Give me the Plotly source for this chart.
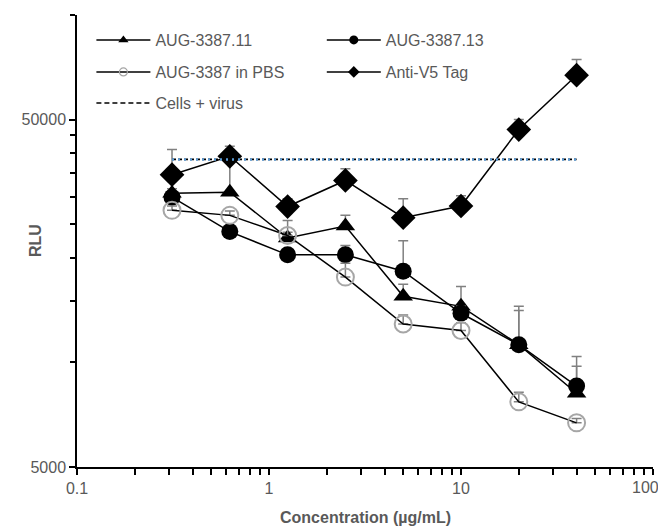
import plotly.graph_objects as go

conc = [0.3125, 0.625, 1.25, 2.5, 5, 10, 20, 40]

aug11 = [30700, 30900, 22800, 24700, 15500, 14500, 11250, 8150]
aug11_err = [900, 8600, 900, 1800, 1300, 2050, 2850, 2250]

aug13 = [29900, 23800, 20400, 20400, 18300, 13850, 11250, 8550]
aug13_err = [800, 600, 600, 1300, 4100, 650, 3250, 1200]

pbs = [27400, 26500, 23200, 17600, 12900, 12350, 7700, 6700]
pbs_err = [800, 800, 2400, 1700, 800, 650, 500, 200]

antiv5 = [34700, 39200, 28100, 33400, 26100, 28200, 46800, 67100]
antiv5_err = [6300, 2700, 1500, 2700, 3500, 2000, 3200, 7400]

cells_virus = [38400] * len(conc)

x_ticks = [0.1, 1, 10, 100]
x_ticklabels = ["0.1", "1", "10", "100"]
y_ticks = [5000, 50000]
y_ticklabels = ["5000", "50000"]

FONT = "Liberation Sans, Arial, sans-serif"
GREY = "#595959"
ERR = "#808080"
OPEN = "#a6a6a6"

# the page body has an 8px margin; figure is shifted accordingly
OFF = 8
W, H = 666 - OFF, 528 - OFF

def err(arr):
    return dict(type="data", array=arr, arrayminus=[0] * len(arr), symmetric=False,
                color=ERR, thickness=1.5, width=5)

series = [
    ("AUG-3387.11", aug11, aug11_err, dict(symbol="triangle-up", size=17, color="black"),
     dict(symbol="triangle-up", size=9, color="black"), "legend"),
    ("AUG-3387.13", aug13, aug13_err, dict(symbol="circle", size=17, color="black"),
     dict(symbol="circle", size=9, color="black"), "legend2"),
    ("AUG-3387 in PBS", pbs, pbs_err,
     dict(symbol="circle-open", size=17, color=OPEN, line=dict(width=2, color=OPEN)),
     dict(symbol="circle-open", size=8, color=OPEN, line=dict(width=1.2, color=OPEN)), "legend3"),
    ("Anti-V5 Tag", antiv5, antiv5_err, dict(symbol="diamond", size=19, color="black"),
     dict(symbol="diamond", size=9, color="black"), "legend4"),
]

fig = go.Figure()
for name, vals, errs, mk, lmk, lg in series:
    fig.add_trace(go.Scatter(x=conc, y=vals, name=name, mode="lines+markers",
                             line=dict(color="black", width=1.5), marker=mk,
                             error_y=err(errs), showlegend=False))

fig.add_trace(go.Scatter(x=conc, y=cells_virus, name="Cells + virus", mode="lines",
                         line=dict(color="black", width=1.8, dash="4px,2px"),
                         showlegend=False))
fig.add_trace(go.Scatter(x=conc, y=cells_virus, name="Cells + virus", mode="lines",
                         line=dict(color="#5b9bd5", width=2.5, dash="2px,4px"),
                         showlegend=False))

for name, vals, errs, mk, lmk, lg in series:
    fig.add_trace(go.Scatter(x=[None], y=[None], name=name, mode="lines+markers",
                             line=dict(color="black", width=1.5), marker=lmk,
                             legend=lg, showlegend=True))
fig.add_trace(go.Scatter(x=[None], y=[None], name="Cells + virus", mode="lines",
                         line=dict(color="black", width=1.5, dash="5px,3px"),
                         legend="legend5", showlegend=True))

leg = dict(font=dict(family=FONT, size=16, color=GREY), bgcolor="rgba(0,0,0,0)",
           xanchor="left", yanchor="middle", itemwidth=54, orientation="h")
c1, c2 = 0.025, 0.425
L = lambda yp: (467 - yp) / 452
r1, r2, r3 = L(40), L(72), L(103)

fig.update_layout(
    width=W, height=H,
    margin=dict(l=77 - OFF, r=W - (653 - OFF), t=15 - OFF, b=H - (467 - OFF)),
    plot_bgcolor="white", paper_bgcolor="white",
    font=dict(family=FONT, size=16, color=GREY),
    showlegend=True,
    legend=dict(leg, x=c1, y=r1),
    legend2=dict(leg, x=c2, y=r1),
    legend3=dict(leg, x=c1, y=r2),
    legend4=dict(leg, x=c2, y=r2),
    legend5=dict(leg, x=c1, y=r3),
    xaxis=dict(type="log", range=[-1, 2], tickmode="array", tickvals=x_ticks[:-1],
               ticktext=x_ticklabels[:-1], ticks="outside", ticklen=6, tickwidth=1.5,
               tickcolor="black", showline=True, linecolor="black", linewidth=1.5,
               showgrid=False, zeroline=False, automargin=False,
               tickfont=dict(family=FONT, size=16, color=GREY),
               minor=dict(tickmode="array",
                          tickvals=[m * d for d in [0.1, 1, 10] for m in range(2, 10)] + [100],
                          ticks="outside", ticklen=6, tickwidth=1.5, tickcolor="black")),
    yaxis=dict(type="log", range=[3.69897, 5], tickmode="array", tickvals=y_ticks,
               ticktext=y_ticklabels, ticks="outside", ticklen=6, tickwidth=1.5,
               tickcolor="black", showline=True, linecolor="black", linewidth=1.5,
               showgrid=False, zeroline=False, automargin=False,
               tickfont=dict(family=FONT, size=16, color=GREY),
               minor=dict(tickmode="array",
                          tickvals=[m * 5000 for m in range(2, 10)] + [100000],
                          ticks="outside", ticklen=5, tickwidth=1.5, tickcolor="black")),
    annotations=[
        dict(text=x_ticklabels[-1], xref="x", yref="paper", x=2, y=L(488),
             xanchor="right", yanchor="middle", xshift=8, showarrow=False,
             font=dict(family=FONT, size=16, color=GREY)),
        dict(text="<b>Concentration (µg/mL)</b>", xref="paper", yref="paper",
             x=0.5, y=L(518), xanchor="center", yanchor="middle", showarrow=False,
             font=dict(family=FONT, size=16, color=GREY)),
        dict(text="<b>RLU</b>", xref="paper", yref="paper", textangle=-90,
             x=(35 - 77) / 576, y=0.5, xanchor="center", yanchor="middle", showarrow=False,
             font=dict(family=FONT, size=16, color=GREY)),
    ],
)

fig.write_html("out.html")
